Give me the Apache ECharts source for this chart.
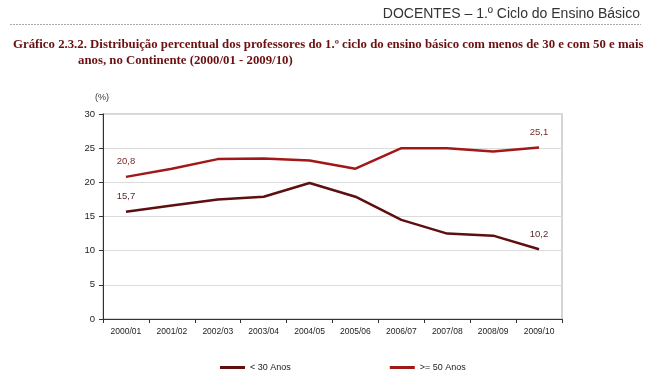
<!DOCTYPE html>
<html><head><meta charset="utf-8">
<script src="https://cdn.jsdelivr.net/npm/echarts@6/dist/echarts.min.js"></script>
<style>html,body{margin:0;padding:0;background:#fff}#c{width:650px;height:381px}</style>
</head><body><div id="c"></div>
<script>
const categories = ['2000/01','2001/02','2002/03','2003/04','2004/05','2005/06','2006/07','2007/08','2008/09','2009/10'];
const under30 = [15.7, 16.6, 17.5, 17.9, 19.9, 17.9, 14.5, 12.5, 12.2, 10.2];
const over50 = [20.8, 22.0, 23.4, 23.5, 23.2, 22.0, 25.0, 25.0, 24.5, 25.1];
const seriesNames = ['< 30 Anos', '>= 50 Anos'];

const chart = echarts.init(document.getElementById('c'), null, {renderer:'canvas'});
const labelFmt = (p) => (p.dataIndex === 0 || p.dataIndex === categories.length - 1) ? String(p.value).replace('.', ',') : '';
chart.setOption({
  animation: false,
  textStyle: {fontFamily: 'Liberation Sans, Arial, sans-serif'},
  graphic: [
    {type:'text', right: 10, top: 7, style:{text:'DOCENTES – 1.º Ciclo do Ensino Básico', font:'14px "Liberation Sans", Arial', fill:'#333'}},
    {type:'line', shape:{x1:10, y1:24.5, x2:641, y2:24.5}, style:{stroke:'#aaa', lineWidth:1, lineDash:[2,1]}},
    {type:'text', left: 13, top: 38, style:{text:'Gráfico 2.3.2. Distribuição percentual dos professores do 1.º ciclo do ensino básico com menos de 30 e com 50 e mais', font:'bold 12.8px "Liberation Serif", serif', fill:'#6b1010'}},
    {type:'text', left: 78, top: 54, style:{text:'anos, no Continente (2000/01 - 2009/10)', font:'bold 12.8px "Liberation Serif", serif', fill:'#6b1010'}},
    {type:'text', left: 95, top: 93, style:{text:'(%)', font:'9px "Liberation Sans", Arial', fill:'#333'}},
    {type:'rect', shape:{x:103, y:114, width:459, height:205}, style:{fill:'none', stroke:'#c8c8c8', lineWidth:1.5}, z:-1}
  ],
  grid: {left: 103, right: 88, top: 114, bottom: 62},
  legend: {
    bottom: 4, left: 215, itemGap: 99, itemWidth: 25, itemHeight: 3,
    icon: 'rect',
    textStyle: {fontSize: 9, color:'#222'},
    data: seriesNames
  },
  xAxis: {
    type: 'category', data: categories, boundaryGap: true,
    axisLine: {lineStyle:{color:'#333'}},
    axisTick: {show:true, length:4, lineStyle:{color:'#333'}},
    axisLabel: {fontSize: 8.5, color:'#222', margin: 8}
  },
  yAxis: {
    type: 'value', min: 0, max: 30, interval: 5,
    axisLine: {show:true, lineStyle:{color:'#333'}},
    axisTick: {show:true, length:4, lineStyle:{color:'#333'}},
    axisLabel: {fontSize: 9.5, color:'#222', margin: 8},
    splitLine: {lineStyle:{color:'#dcdcdc'}}
  },
  series: [
    {name: seriesNames[0], type:'line', data: under30, symbol:'circle', symbolSize:0.1, showAllSymbol:true, lineStyle:{width:2.5, color:'#5e0f0f'}, itemStyle:{color:'#5e0f0f'},
     label:{show:true, position:'top', distance:10, formatter: labelFmt, fontSize:9.5, color:'#5a2a2a'}},
    {name: seriesNames[1], type:'line', data: over50, symbol:'circle', symbolSize:0.1, showAllSymbol:true, lineStyle:{width:2.5, color:'#a11818'}, itemStyle:{color:'#a11818'},
     label:{show:true, position:'top', distance:10, formatter: labelFmt, fontSize:9.5, color:'#7a2a2a'}}
  ]
});
</script></body></html>
